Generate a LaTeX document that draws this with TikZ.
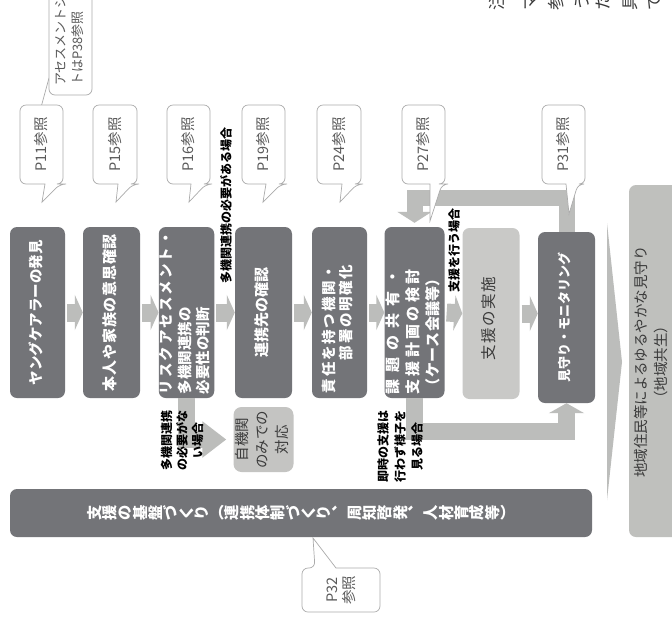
\documentclass[tikz,border=0pt]{standalone}
\usepackage{fontspec}
\setmainfont{Noto Sans CJK JP}
\usepackage{graphicx}
\usetikzlibrary{arrows.meta}
\definecolor{boxdark}{HTML}{737478}
\definecolor{arrgray}{HTML}{BCBDBB}
\definecolor{boxlight}{HTML}{C9C9C7}
\definecolor{jkfill}{HTML}{C4C4C2}
\definecolor{bigbox}{HTML}{BFC0BD}
\definecolor{callline}{HTML}{ABABAB}
\definecolor{calltext}{HTML}{5A5A5A}
\definecolor{textdark}{HTML}{3A3A3A}
\newcommand\rt[3]{\rotatebox{90}{\begin{tabular}{@{}#1@{}}#3\end{tabular}\hspace*{#2}}}
\def\sploop#1{\ifx\relax#1\else#1\hfil\expandafter\sploop\fi}
\newcommand\spread[2]{\hbox to #1{\sploop#2\relax\unskip}}
\newcommand\vone[2][90]{\rotatebox[origin=c]{#1}{\makebox[1em]{\rule[-0.12em]{0pt}{1em}#2}}}
\def\vloop#1{\ifx\relax#1\else\vone{#1}\expandafter\vloop\fi}
\newcommand\vchars[1]{\vloop#1\relax}
\newcommand\cdown[8]{\draw[cbox] (#5,#4) [rounded corners=6pt] -- (#1,#4) -- (#1,#2) -- (#3,#2) -- (#3,#4) -- (#6,#4) [sharp corners] -- (#7,#8) -- cycle;}
\newcommand\cupward[8]{\draw[cbox] (#6,#2) [rounded corners=6pt] -- (#3,#2) -- (#3,#4) -- (#1,#4) -- (#1,#2) -- (#5,#2) [sharp corners] -- (#7,#8) -- cycle;}
\begin{document}
\begin{tikzpicture}[x=1pt,y=-1pt,
  darkbox/.style={fill=boxdark, rounded corners=7pt, inner sep=0pt, minimum width=55pt, minimum height=171pt, text=white},
  lightbox/.style={fill=boxlight, rounded corners=7pt, inner sep=0pt, minimum width=57pt, minimum height=171pt, text=textdark},
  flowarr/.style={draw=arrgray, line width=18pt, -{Triangle[width=35pt,length=8pt]}},
  elbow/.style={draw=arrgray, line width=17pt, line join=miter},
  lbl/.style={font=\fontsize{12}{15.5}\selectfont\bfseries, inner sep=0pt, rotate=90, align=center},
  calltxt/.style={text=calltext, font=\fontsize{14.5}{17}\selectfont, inner sep=0pt, rotate=90, align=center},
  cbox/.style={draw=callline, fill=white, line width=0.7pt},
  boxfont/.style={font=\fontsize{15}{18.5}\selectfont\bfseries},
]
\useasboundingbox (0,0) rectangle (672,625);
\fill[white] (0,0) rectangle (672,625);

% partial text at top right (cut off by the frame, as in the source)
\foreach \c/\xx [count=\i] in {注/497,マ/531,参/556,う/582,た/603,具/630,で/655}
  \node[rotate=90, anchor=west, inner sep=0pt, text=textdark, font=\fontsize{17}{20}\selectfont] (top\i) at (\xx,11) {\c};

% right big box
\node[fill=bigbox, rounded corners=7pt, minimum width=62pt, minimum height=352pt, inner sep=0pt] (rb) at (660,361) {};
\node[rotate=90, align=center, inner sep=0pt, text=textdark, font=\fontsize{14.5}{20}\selectfont] (rbt) at (651,362) {地域住民等によるゆるやかな見守り\\（地域共生）};

% thin wedge
\fill[arrgray] (607,223) -- (622,362) -- (607,500) -- cycle;

% main boxes
\node[darkbox, font=\fontsize{14.5}{18.5}\selectfont\bfseries] (b1) at (37.5,312.5) {\rt{c}{0pt}{ヤングケアラーの発見}};
\node[darkbox, boxfont, minimum width=57pt] (b2) at (111.5,312.5) {\rt{c}{0pt}{\spread{157pt}{本人や家族の意思確認}}};
\node[darkbox, font=\fontsize{14.5}{18.5}\selectfont\bfseries, minimum width=53pt] (b3) at (186.5,312.5) {\rt{l}{0pt}{\spread{163pt}{リスクアセスメント・}\\多機関連携の\\必要性の判断}};
\node[darkbox, boxfont, minimum width=57pt] (b4) at (263.5,312.5) {\rt{c}{0pt}{連携先の確認}};
\node[darkbox, font=\fontsize{14.5}{17}\selectfont\bfseries] (b5) at (339.5,312.5) {\rt{r}{33pt}{\spread{128pt}{責任を持つ機関・}\\\spread{95pt}{部署の明確化}}};
\node[darkbox, font=\fontsize{15}{20}\selectfont\bfseries] (b6) at (414.5,312.5) {\rt{c}{39pt}{\spread{125pt}{課題の共有・}\\\spread{125pt}{支援計画の検討}\\\spread{122pt}{（ケース会議等）}}};
\node[lightbox, font=\fontsize{15.5}{18}\selectfont] (b7) at (491,313.5) {\rt{c}{10pt}{\spread{83pt}{支援の実施}}};
\node[darkbox, font=\fontsize{13}{16}\selectfont\bfseries, minimum width=57pt] (b8) at (566.5,317.5) {\rt{c}{0pt}{見守り・モニタリング}};

% own-agency box
\node[fill=jkfill, rounded corners=8pt, minimum width=57pt, minimum height=65pt, inner sep=0pt, text=textdark, font=\fontsize{14.5}{20}\selectfont] (jk) at (263.5,439.5) {\rt{c}{0pt}{自機関\\のみでの\\対応}};

% base box
\node[fill=boxdark, rounded corners=7pt, minimum width=582pt, minimum height=48pt, inner sep=0pt, text=white, font=\fontsize{15.3}{18}\selectfont\bfseries] (base) at (301,513)
  {\vchars{支援の基盤づくり}（\vchars{連携体制づくり}\vone[-90]{、}\vchars{周知啓発}\vone[-90]{、}\vchars{人材育成等}）};

% flow arrows
\draw[flowarr] ([xshift=2pt]b1.east) -- (b2.west);
\draw[flowarr] ([xshift=2pt]b2.east) -- (b3.west);
\draw[flowarr] ([xshift=2pt]b3.east) -- (b4.west);
\draw[flowarr] ([xshift=2pt]b4.east) -- (b5.west);
\draw[flowarr] ([xshift=2pt]b5.east) -- (b6.west);
\draw[flowarr] ([xshift=2pt]b6.east) -- (b7.west);
\draw[flowarr] ([xshift=2pt]b7.east) -- (b7.east -| b8.west);

% elbow arrows
\coordinate (kB) at (0,431);
\coordinate (kC) at (0,197.5);
\draw[elbow, -{Triangle[width=35pt,length=24pt]}, shorten >=7pt] (b3.south) |- (jk.west);
\draw[elbow, -{Triangle[width=35pt,length=10pt]}] (b6.south) -- (b6.south |- kB) -| (b8.south);
\draw[elbow, line width=16pt, -{Triangle[width=34pt,length=11pt]}, shorten >=4pt] (b8.north) -- (b8.north |- kC) -| (b6.north);

% labels
\node[lbl] (l1) at (226,205) {多機関連携の必要がある場合};
\node[lbl] (l2) at (454,250) {支援を行う場合};
\node[lbl] (l3) at (182,440) {多機関連携\\の必要がな\\い場合};
\node[lbl, font=\fontsize{12}{17}\selectfont\bfseries] (l4) at (400,446) {即時の支援は\\行わず様子を\\見る場合};

% callouts
\draw[callline, line width=0.7pt] (40,111) -- (49,78);
\draw[cbox, rounded corners=6pt] (49,-20) rectangle (92,95);
\node[calltxt, align=left, anchor=west, font=\fontsize{13}{17}\selectfont] (cas) at (70,86) {アセスメントシー\\トはP38参照};
\cdown{20}{105}{63}{184}{45}{60}{42}{202}
\node[calltxt] (c11) at (41.5,144.5) {P11参照};
\cdown{93}{105}{137}{184}{118}{133}{116}{202}
\node[calltxt] (c15) at (115,144.5) {P15参照};
\cdown{167}{105}{210}{184}{191}{206}{189}{202}
\node[calltxt] (c16) at (188.5,144.5) {P16参照};
\cdown{242}{105}{285}{184}{266}{281}{263}{202}
\node[calltxt] (c19) at (263.5,144.5) {P19参照};
\cdown{317}{105}{361}{184}{342}{357}{340}{202}
\node[calltxt] (c24) at (339,144.5) {P24参照};
\cdown{402}{105}{445}{184}{430}{442}{430}{221}
\node[calltxt] (c27) at (423.5,144.5) {P27参照};
\cdown{542}{105}{585}{184}{566}{578}{569}{214}
\node[calltxt] (c31) at (563.5,144.5) {P31参照};
\cupward{302}{568}{380}{612}{315}{336}{313}{538}
\node[calltxt] (c32) at (341,590) {P32\\参照};
\end{tikzpicture}
\end{document}
